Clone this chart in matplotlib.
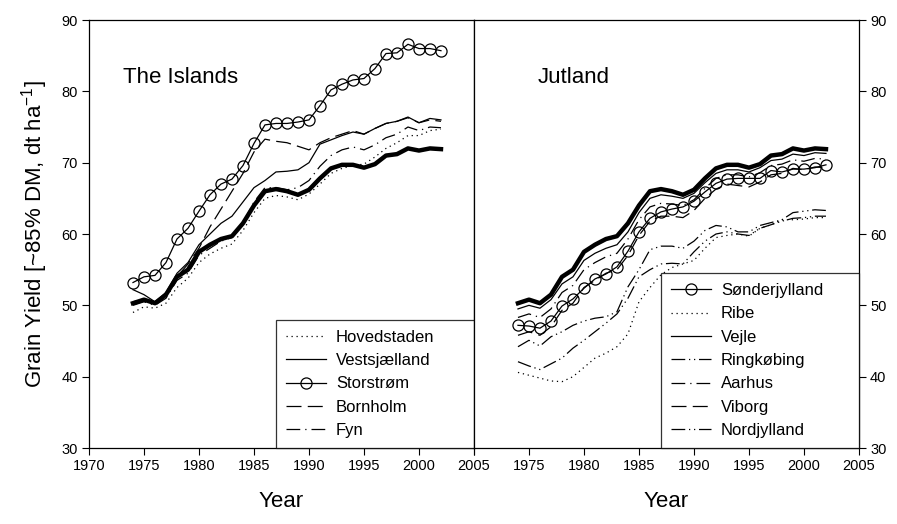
import matplotlib
matplotlib.use("Agg")
import matplotlib.pyplot as plt

plt.rcParams['font.family'] = ['Liberation Sans', 'DejaVu Sans']
plt.rcParams['mathtext.fontset'] = 'custom'
plt.rcParams['mathtext.rm'] = 'Liberation Sans'
plt.rcParams['mathtext.it'] = 'Liberation Sans'

years = list(range(1974, 2003))

# national mean (thick line, drawn in both panels)
denmark = [50.3, 50.8, 50.3, 51.5, 54.0, 55.0, 57.5, 58.5, 59.3, 59.7, 61.5, 64.0, 66.0, 66.3,
           66.0, 65.5, 66.2, 67.8, 69.2, 69.7, 69.7, 69.3, 69.8, 71.0, 71.2, 72.0, 71.7, 72.0, 71.9]

# The Islands
hovedstaden = [49.0, 49.8, 49.6, 50.3, 52.5, 53.8, 56.0, 57.2, 58.0, 58.6, 60.5, 63.0, 65.0, 65.4,
               65.2, 64.8, 65.6, 67.0, 68.5, 69.2, 69.6, 69.8, 70.8, 72.0, 72.8, 73.8, 73.8, 74.5, 74.7]
vestsjaelland = [52.2, 51.5, 50.5, 51.8, 54.5, 56.0, 58.5, 60.0, 61.5, 62.5, 64.5, 66.5, 67.5, 68.7,
                 68.8, 69.0, 70.0, 72.6, 73.2, 73.8, 74.3, 74.0, 74.8, 75.5, 75.8, 76.4, 75.6, 76.2, 76.0]
storstrom = [53.2, 54.0, 54.2, 56.0, 59.3, 60.8, 63.2, 65.5, 67.0, 67.7, 69.6, 72.7, 75.3, 75.5,
             75.5, 75.7, 76.0, 78.0, 80.2, 81.0, 81.6, 81.8, 83.2, 85.3, 85.4, 86.6, 86.0, 86.0, 85.7]
bornholm = [50.5, 50.8, 50.2, 51.5, 54.0, 55.8, 58.0, 61.0, 63.5, 66.0, 68.5, 71.5, 73.3, 73.0,
            72.8, 72.3, 71.8, 72.8, 73.5, 74.0, 74.5, 74.0, 74.8, 75.5, 75.8, 76.3, 75.6, 76.0, 75.8]
fyn = [50.0, 50.5, 50.0, 51.0, 53.5, 54.5, 57.0, 58.0, 59.0, 59.5, 61.5, 64.5, 66.5, 66.5,
       66.2, 66.5, 67.5, 69.5, 71.0, 71.8, 72.2, 71.8, 72.5, 73.5, 74.0, 75.0, 74.5, 75.0, 74.9]

# Jutland
sonderjylland = [47.2, 47.1, 46.8, 47.8, 49.9, 50.9, 52.4, 53.7, 54.4, 55.4, 57.6, 60.3, 62.2, 63.1,
                 63.5, 63.8, 64.6, 65.9, 67.1, 67.7, 67.8, 67.8, 67.8, 68.9, 68.7, 69.1, 69.1, 69.3, 69.7]
ribe = [40.6, 40.2, 39.8, 39.4, 39.3, 40.0, 41.3, 42.6, 43.3, 44.2, 46.0, 50.5, 52.5, 54.3,
        55.3, 55.8, 56.3, 58.0, 59.5, 59.8, 60.0, 59.7, 60.8, 61.3, 62.0, 62.0, 62.1, 62.3, 62.3]
vejle = [49.5, 50.0, 49.6, 50.8, 53.0, 54.0, 56.3, 57.3, 58.0, 58.5, 60.3, 63.0, 65.0, 65.5,
         65.3, 65.0, 65.7, 67.2, 68.5, 69.0, 69.0, 68.7, 69.3, 70.3, 70.5, 71.2, 71.0, 71.4, 71.3]
ringkobing = [42.1, 41.5, 41.0, 41.8, 42.6, 44.0, 45.1, 46.3, 47.5, 48.8, 51.0, 54.0, 55.0, 55.8,
              55.9, 55.8, 57.5, 59.0, 60.0, 60.3, 60.0, 59.8, 60.8, 61.3, 61.8, 62.2, 62.3, 62.5, 62.5]
aarhus = [48.3, 48.8, 48.3, 49.5, 51.8, 52.8, 55.0, 56.0, 56.8, 57.3, 59.3, 62.0, 63.8, 64.3,
          64.2, 64.0, 64.8, 66.4, 67.8, 68.3, 68.3, 68.0, 68.6, 69.6, 69.8, 70.4, 70.2, 70.6, 70.5]
viborg = [45.8, 46.3, 45.8, 47.0, 49.3, 50.3, 52.5, 53.5, 54.5, 55.0, 57.0, 59.8, 61.8, 62.5,
          62.5, 62.3, 63.3, 65.0, 66.3, 67.0, 66.8, 66.6, 67.3, 68.3, 68.5, 69.2, 69.0, 69.4, 69.3]
nordjylland = [44.2, 45.1, 44.3, 45.6, 46.3, 47.2, 47.8, 48.2, 48.4, 49.1, 52.6, 55.0, 57.8, 58.3,
               58.3, 58.0, 59.0, 60.5, 61.2, 61.0, 60.3, 60.3, 61.2, 61.6, 62.0, 63.0, 63.2, 63.4, 63.3]

dotted = (0, (1, 3))
dashed = (0, (12, 5))
dashdot = (0, (11, 4, 1, 4))
dashdotdot = (0, (11, 3, 1, 3, 1, 3))

fig = plt.figure(figsize=(8.97, 5.24), dpi=100)
ax1 = fig.add_axes([0.0992, 0.145, 0.4292, 0.8168])
ax2 = fig.add_axes([0.5284, 0.145, 0.4292, 0.8168])

lw = 0.9
ax1.plot(years, denmark, color='black', lw=3.2)
ax1.plot(years, hovedstaden, color='black', lw=lw, ls=dotted, label='Hovedstaden')
ax1.plot(years, vestsjaelland, color='black', lw=lw, label='Vestsjælland')
ax1.plot(years, storstrom, color='black', lw=lw, marker='o', ms=8, mfc='none', mew=0.9, label='Storstrøm')
ax1.plot(years, bornholm, color='black', lw=lw, ls=dashed, label='Bornholm')
ax1.plot(years, fyn, color='black', lw=lw, ls=dashdot, label='Fyn')

ax2.plot(years, denmark, color='black', lw=3.2)
ax2.plot(years, sonderjylland, color='black', lw=lw, marker='o', ms=8, mfc='none', mew=0.9, label='Sønderjylland')
ax2.plot(years, ribe, color='black', lw=lw, ls=dotted, label='Ribe')
ax2.plot(years, vejle, color='black', lw=lw, label='Vejle')
ax2.plot(years, ringkobing, color='black', lw=lw, ls=dashdotdot, label='Ringkøbing')
ax2.plot(years, aarhus, color='black', lw=lw, ls=dashdot, label='Aarhus')
ax2.plot(years, viborg, color='black', lw=lw, ls=dashed, label='Viborg')
ax2.plot(years, nordjylland, color='black', lw=lw, ls=dashdotdot, label='Nordjylland')

xticks = list(range(1970, 2006, 5))
for ax in (ax1, ax2):
    ax.set_xlim(1970, 2005)
    ax.set_ylim(30, 90)
    ax.set_xticks(xticks)
    ax.set_yticks(range(30, 91, 10))
    ax.tick_params(direction='out', length=5, width=0.8, labelsize=10.5, pad=3)
    for s in ax.spines.values():
        s.set_linewidth(0.9)
    ax.set_xlabel('Year', fontsize=16, labelpad=13)

ax1.tick_params(axis='y', right=False)
ax2.tick_params(axis='y', left=False, labelleft=False, right=True, labelright=True)
ax2.set_xticklabels([''] + [str(x) for x in xticks[1:]])

ax1.set_ylabel(r'Grain Yield [~85% DM, dt ha$^{-1}$]', fontsize=16, labelpad=8)

ax1.text(1973.1, 82, 'The Islands', fontsize=16, va='center')
ax2.text(1975.8, 82, 'Jutland', fontsize=16, va='center')

leg_kw = dict(loc='lower left', bbox_to_anchor=(0.486, 0.0, 0.514, 0.5), mode='expand',
              fontsize=12, frameon=True, fancybox=False, borderaxespad=0,
              handlelength=2.4, handletextpad=0.6, labelspacing=0.5, borderpad=0.6)
for ax in (ax1, ax2):
    leg = ax.legend(**leg_kw)
    leg.get_frame().set_edgecolor('black')
    leg.get_frame().set_linewidth(0.9)

fig.savefig('out.png', dpi=100)
